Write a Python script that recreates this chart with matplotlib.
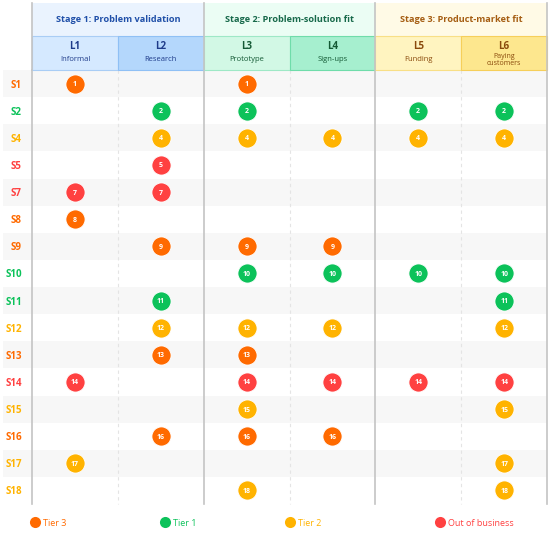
import matplotlib.pyplot as plt
from matplotlib.patches import Rectangle
from matplotlib.lines import Line2D

plt.rcParams['font.family'] = ['Open Sans', 'DejaVu Sans']

# data
startups = ['S1', 'S2', 'S4', 'S5', 'S7', 'S8', 'S9', 'S10', 'S11', 'S12',
            'S13', 'S14', 'S15', 'S16', 'S17', 'S18']
tiers = ['Tier 3', 'Tier 1', 'Tier 2', 'Out of business', 'Out of business', 'Tier 3',
         'Tier 3', 'Tier 1', 'Tier 1', 'Tier 2', 'Tier 3', 'Out of business',
         'Tier 2', 'Tier 3', 'Tier 2', 'Tier 2']
levels_reached = [
    ['L1', 'L3'],
    ['L2', 'L3', 'L5', 'L6'],
    ['L2', 'L3', 'L4', 'L5', 'L6'],
    ['L2'],
    ['L1', 'L2'],
    ['L1'],
    ['L2', 'L3', 'L4'],
    ['L3', 'L4', 'L5', 'L6'],
    ['L2', 'L6'],
    ['L2', 'L3', 'L4', 'L6'],
    ['L2', 'L3'],
    ['L1', 'L3', 'L4', 'L5', 'L6'],
    ['L3', 'L6'],
    ['L2', 'L3', 'L4'],
    ['L1', 'L6'],
    ['L3', 'L6'],
]
levels = ['L1', 'L2', 'L3', 'L4', 'L5', 'L6']
level_names = ['Informal', 'Research', 'Prototype', 'Sign-ups', 'Funding', 'Paying\ncustomers']
stages = ['Stage 1: Problem validation', 'Stage 2: Problem-solution fit', 'Stage 3: Product-market fit']
legend_order = ['Tier 3', 'Tier 1', 'Tier 2', 'Out of business']

tier_colors = {'Tier 1': '#0cc25a', 'Tier 2': '#ffb300', 'Tier 3': '#ff6a00',
               'Out of business': '#ff4141'}
stage_bg = ['#eaf3fe', '#ebfdf4', '#fffae6']
level_bg = ['#d5e9ff', '#b4d7fc', '#d2f8e5', '#a6efcf', '#fff4c0', '#fde78e']
level_edge = ['#a9cdf5', '#8fc0f5', '#9ee8c6', '#6fdcaa', '#f8df86', '#f6cf5a']
stage_text = ['#1f4fa8', '#17694a', '#a55d12']
level_text = ['#1e3b8a', '#1e3b8a', '#145a35', '#145a35', '#8a4a0c', '#8a4a0c']

fig = plt.figure(figsize=(5.5, 5.33), dpi=100)
# grid area in pixels: x 32..547, y 70..504
ax = fig.add_axes([32 / 550, 1 - 504 / 533, 515 / 550, 434 / 533])
n = len(startups)
ax.set_xlim(-0.5, 5.5)
ax.set_ylim(n - 0.5, -0.5)
ax.axis('off')

# alternating row shading
for i in range(n):
    if i % 2 == 0:
        ax.add_patch(Rectangle((-0.84, i - 0.5), 6.34, 1, facecolor='#f7f7f7',
                               edgecolor='none', clip_on=False, zorder=0))

# vertical lines
for k in range(7):
    if k % 2 == 0:
        ax.plot([k - 0.5, k - 0.5], [-0.5, n - 0.5], color='#c4c4c4', lw=1.2,
                clip_on=False, zorder=1)
    else:
        ax.plot([k - 0.5, k - 0.5], [-0.5, n - 0.5], color='#e4e4e4', lw=0.8,
                ls=(0, (3, 3)), clip_on=False, zorder=1)

# header rows
lvl_h = 1.25
stg_h = 1.22
for s in range(3):
    ax.add_patch(Rectangle((2 * s - 0.5, -0.5 - lvl_h - stg_h), 2, stg_h,
                           facecolor=stage_bg[s], edgecolor='none', clip_on=False, zorder=0))
    ax.text(2 * s + 0.5, -0.5 - lvl_h - stg_h / 2, stages[s], ha='center', va='center',
            fontsize=6.6, fontweight='bold', color=stage_text[s])
    ax.plot([2 * s - 0.5, 2 * s - 0.5], [-0.5, -0.5 - lvl_h - stg_h], color='#c4c4c4',
            lw=1.2, clip_on=False, zorder=3)
ax.plot([5.5, 5.5], [-0.5, -0.5 - lvl_h - stg_h], color='#c4c4c4', lw=1.2,
        clip_on=False, zorder=3)

for j, lv in enumerate(levels):
    ax.add_patch(Rectangle((j - 0.5, -0.5 - lvl_h), 1, lvl_h, facecolor=level_bg[j],
                           edgecolor=level_edge[j], lw=0.8, clip_on=False, zorder=1))
    ax.text(j, -0.5 - lvl_h * 0.68, lv, ha='center', va='center', fontsize=7,
            fontweight='bold', color=level_text[j])
    fs = 5 if '\n' in level_names[j] else 5.5
    ax.text(j, -0.5 - lvl_h * 0.3, level_names[j], ha='center', va='center', fontsize=fs,
            color=level_text[j], linespacing=1.1)

# row labels
for i, s in enumerate(startups):
    ax.text(-0.62, i, s, ha='right', va='center_baseline', fontsize=7, fontweight='bold',
            color=tier_colors[tiers[i]])

# markers
for i, s in enumerate(startups):
    num = s[1:]
    for lv in levels_reached[i]:
        j = levels.index(lv)
        ax.scatter(j, i, s=190, color=tier_colors[tiers[i]], edgecolor='white',
                   linewidth=0.6, zorder=4, clip_on=False)
        ax.text(j, i, num, ha='center', va='center_baseline', fontsize=5,
                fontweight='bold', color='white', zorder=5)

# legend, one entry per slot
slot_x = [30, 160, 285, 435]
for t, px in zip(legend_order, slot_x):
    h = Line2D([], [], marker='o', ls='none', markersize=8,
               markerfacecolor=tier_colors[t], markeredgecolor='none', label=t)
    leg = fig.legend(handles=[h], loc='center left', bbox_to_anchor=(px / 550, 1 - 523 / 533),
                     frameon=False, fontsize=6.5, handletextpad=0.4, handlelength=1.0,
                     borderpad=0, borderaxespad=0)
    leg.get_texts()[0].set_color(tier_colors[t])

plt.savefig('out.png', dpi=100)
